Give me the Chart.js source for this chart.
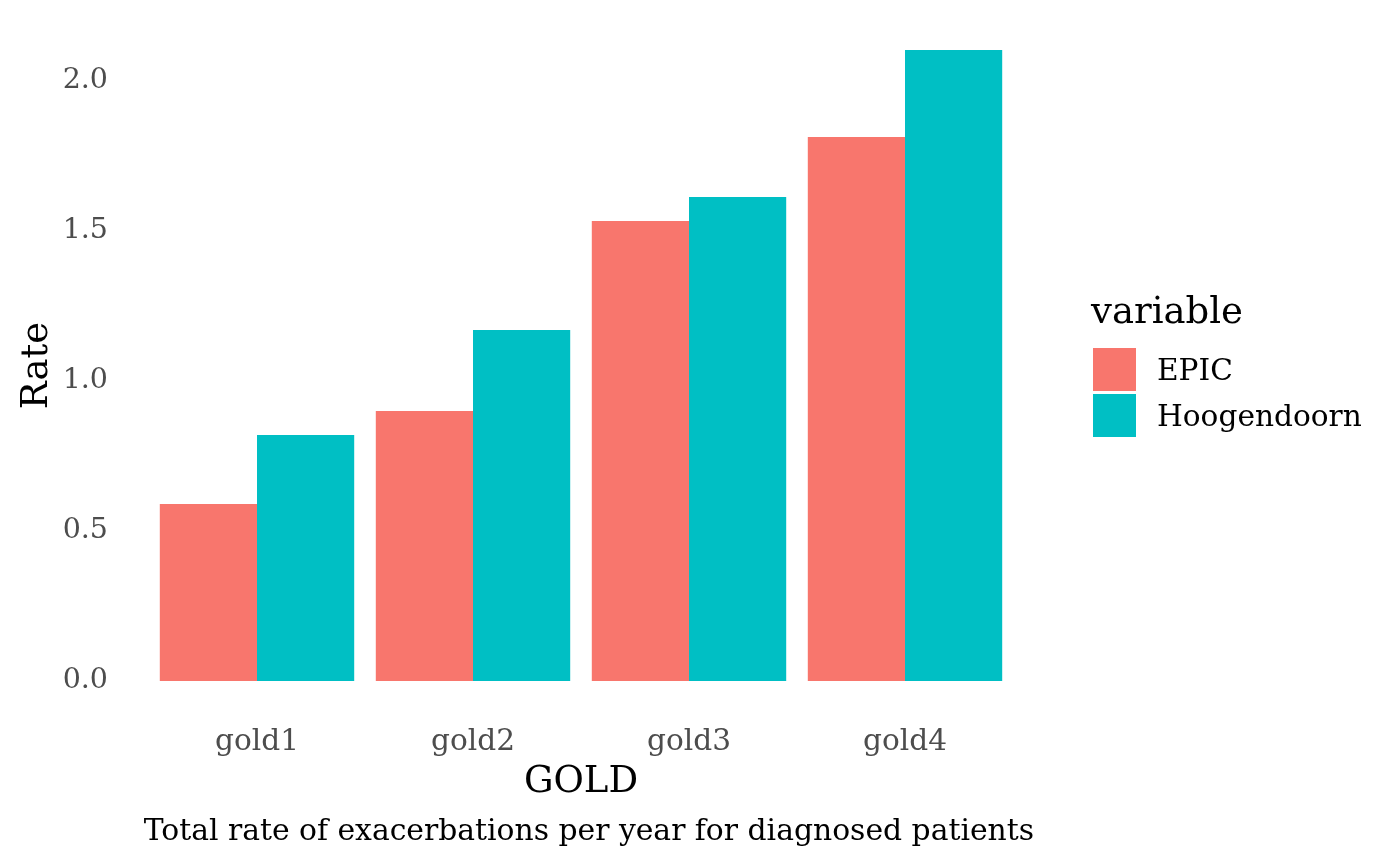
<!DOCTYPE html>
<html>
<head>
<meta charset="utf-8">
<script src="https://cdn.jsdelivr.net/npm/chart.js@4/dist/chart.umd.min.js"></script>
<style>
  html, body { margin: 0; padding: 0; background: #fff; }
  #wrap { width: 1400px; height: 865px; position: relative; }
</style>
</head>
<body>
<div id="wrap"><canvas id="rateChart"></canvas></div>
<script>
const categories = ['gold1', 'gold2', 'gold3', 'gold4'];
const epicRates = [0.59, 0.90, 1.533, 1.813];
const hoogendoornRates = [0.82, 1.17, 1.613, 2.103];
const yTicks = [0, 0.5, 1, 1.5, 2];
const yTickLabels = ['0.0', '0.5', '1.0', '1.5', '2.0'];
const seriesNames = ['EPIC', 'Hoogendoorn'];
const seriesColors = ['#F8766D', '#00BFC4'];
const captionText = 'Total rate of exacerbations per year for diagnosed patients';
const legendTitle = 'variable';

const serif = "'DejaVu Serif', serif";
const smallSize = 29.6;
const bigSize = 37;

// leyenda y pie de figura al estilo ggplot
const extras = {
    id: 'extras',
    afterDraw(chart) {
        const ctx = chart.ctx;
        ctx.save();
        ctx.fillStyle = '#000';
        ctx.textBaseline = 'alphabetic';

        ctx.font = `${bigSize}px ${serif}`;
        ctx.textAlign = 'left';
        ctx.fillText(legendTitle, 1091, 323);

        const keys = [348, 394];
        ctx.font = `${smallSize}px ${serif}`;
        seriesNames.forEach((name, i) => {
            ctx.fillStyle = seriesColors[i];
            ctx.fillRect(1093, keys[i], 43, 43);
            ctx.fillStyle = '#000';
            ctx.fillText(name, 1157, keys[i] + 32);
        });

        ctx.font = `29.8px ${serif}`;
        ctx.textAlign = 'right';
        ctx.fillText(captionText, 1034, 840);
        ctx.restore();
    }
};

const ctx = document.getElementById('rateChart').getContext('2d');
new Chart(ctx, {
    type: 'bar',
    data: {
        labels: categories,
        datasets: [
            { label: seriesNames[0], data: epicRates, backgroundColor: seriesColors[0] },
            { label: seriesNames[1], data: hoogendoornRates, backgroundColor: seriesColors[1] }
        ]
    },
    options: {
        responsive: true,
        maintainAspectRatio: false,
        animation: false,
        layout: { padding: { top: 18.5, right: 387, bottom: 0, left: 0 } },
        datasets: { bar: { categoryPercentage: 0.9, barPercentage: 1.0 } },
        plugins: {
            legend: { display: false },
            tooltip: { enabled: false }
        },
        scales: {
            x: {
                offset: true,
                grid: { display: false, drawTicks: false },
                border: { display: false },
                ticks: { color: '#4D4D4D', font: { family: serif, size: smallSize }, padding: 12 },
                title: {
                    display: true, text: 'GOLD', color: '#000',
                    font: { family: serif, size: bigSize },
                    padding: { top: 0, bottom: 60 }
                },
                afterFit(scale) {
                    scale.height = 152.5;
                    scale.paddingLeft = 0;
                    scale.paddingRight = 0;
                }
            },
            y: {
                min: -0.105,
                max: 2.208,
                grid: { display: false, drawTicks: false },
                border: { display: false },
                afterBuildTicks(scale) {
                    scale.ticks = yTicks.map(v => ({ value: v }));
                },
                ticks: {
                    color: '#4D4D4D',
                    font: { family: serif, size: 28.5 },
                    padding: 41,
                    callback: function(value) {
                        const i = yTicks.indexOf(value);
                        return i >= 0 ? yTickLabels[i] : '';
                    }
                },
                title: {
                    display: true, text: 'Rate', color: '#000',
                    font: { family: serif, size: bigSize },
                    padding: { top: 15, bottom: 0 }
                },
                afterFit(scale) {
                    scale.width = 149;
                    scale.paddingTop = 0;
                    scale.paddingBottom = 0;
                }
            }
        }
    },
    plugins: [extras]
});
</script>
</body>
</html>
